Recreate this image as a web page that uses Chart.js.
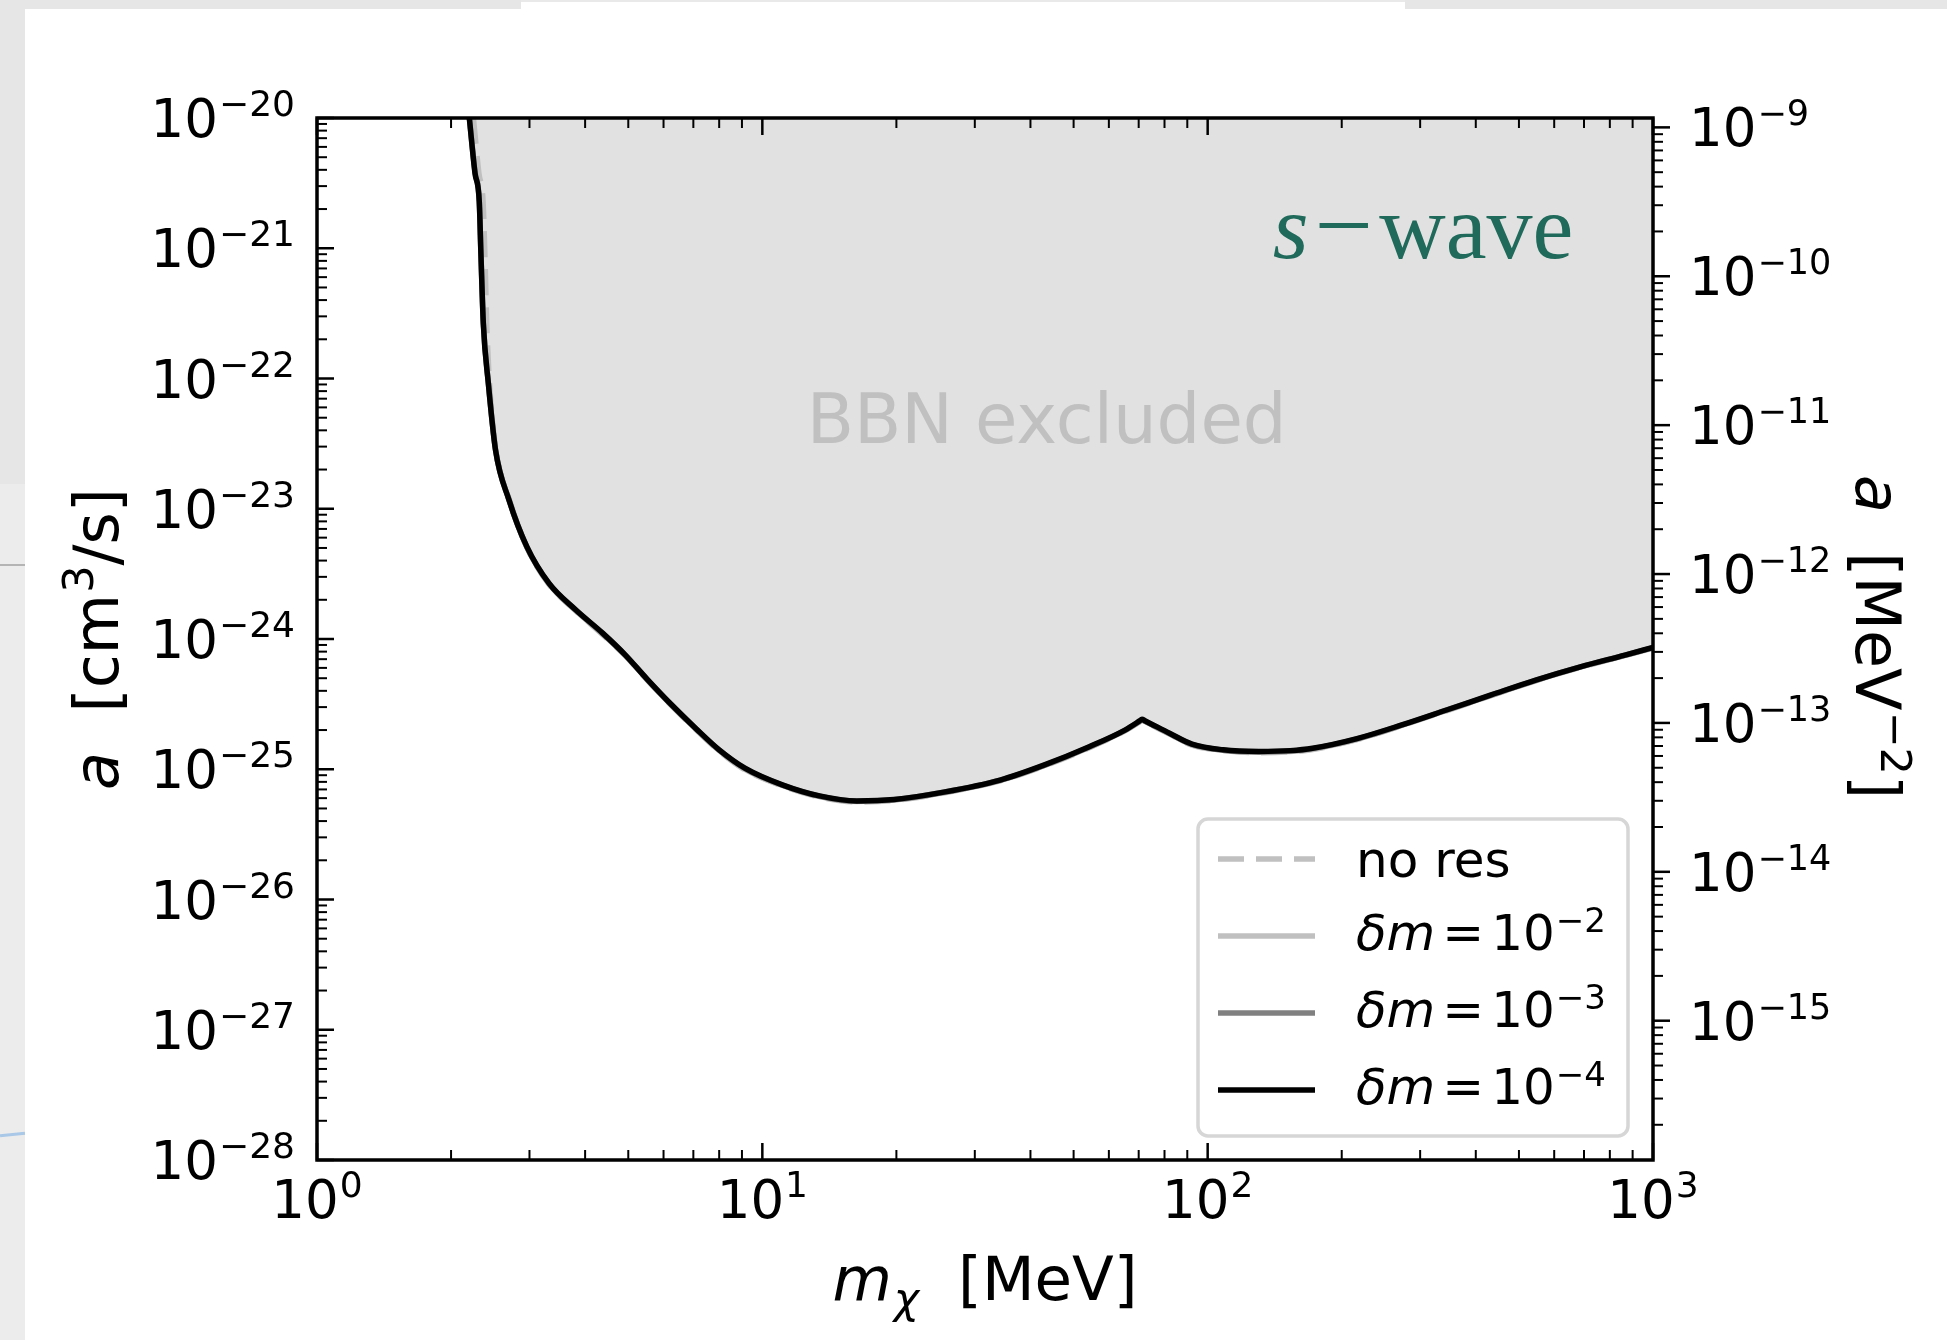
<!DOCTYPE html>
<html>
<head>
<meta charset="utf-8">
<title>BBN bound, s-wave</title>
<script src="https://cdn.jsdelivr.net/npm/chart.js@4.4.1/dist/chart.umd.min.js"></script>
<style>
    html, body { margin: 0; padding: 0; background: #ffffff; }
    body { width: 1947px; height: 1340px; position: relative; overflow: hidden; }
    .strip { position: absolute; }
    #chart { position: absolute; left: 0; top: 0; }
</style>
</head>
<body>
<!-- grey page edges around the figure -->
<div class="strip" style="left:0;top:0;width:25px;height:484px;background:#e6e6e6"></div>
<div class="strip" style="left:0;top:484px;width:25px;height:856px;background:#ececec"></div>
<div class="strip" style="left:0;top:564px;width:25px;height:2px;background:#b4b4b4"></div>
<div class="strip" style="left:0;top:1133px;width:25px;height:3px;background:#a9c7e6;transform:rotate(-6deg)"></div>
<div class="strip" style="left:25px;top:0;width:496px;height:9px;background:#e6e6e6"></div>
<div class="strip" style="left:521px;top:0;width:884px;height:2px;background:#e9e9e9"></div>
<div class="strip" style="left:1405px;top:0;width:542px;height:9px;background:#e6e6e6"></div>

<canvas id="chart" width="1947" height="1340"></canvas>

<script>
// dark matter mass grid [MeV]
const massMeV = [2.198, 2.264, 2.314, 2.335, 2.363, 2.425, 2.517, 2.698, 2.959, 3.32,
    3.814, 4.38, 4.915, 5.517, 6.19, 7.11, 8.0, 9.14, 11.09, 13.44,
    16.3, 19.76, 25.54, 34.2, 43.0, 54.2, 65.2, 70.3, 71.2, 72.3,
    82.1, 92.2, 108.4, 130.4, 153.2, 172, 216.4, 272.9, 343.7, 432.9,
    545.2, 687, 865, 1000];
// the "no res" curve sits a little to the right near the top
const massNoRes = [2.245, 2.31, 2.36, 2.383, 2.405, 2.44, 2.522, 2.698, 2.959, 3.32,
    3.814, 4.38, 4.915, 5.517, 6.19, 7.11, 8.0, 9.14, 11.09, 13.44,
    16.3, 19.76, 25.54, 34.2, 43.0, 54.2, 65.2, 70.3, 71.2, 72.3,
    82.1, 92.2, 108.4, 130.4, 153.2, 172, 216.4, 272.9, 343.7, 432.9,
    545.2, 687, 865, 1000];

// bound on a [cm^3/s] for each curve
const aNoRes = [1.0e-20, 3.76e-21, 2.28e-21, 8.61e-22, 2.65e-22, 9.18e-23, 2.82e-23, 1.2e-23, 5.05e-24, 2.62e-24,
    1.64e-24, 1.08e-24, 7.48e-25, 4.83e-25, 3.19e-25, 2.00e-25, 1.38e-25, 0.99e-25, 7.45e-26, 6.12e-26,
    5.61e-26, 5.76e-26, 6.58e-26, 8.15e-26, 1.06e-25, 1.46e-25, 1.97e-25, 2.31e-25, 2.38e-25, 2.32e-25,
    1.86e-25, 1.53e-25, 1.39e-25, 1.34e-25, 1.36e-25, 1.42e-25, 1.69e-25, 2.16e-25, 2.81e-25, 3.67e-25,
    4.78e-25, 6.05e-25, 7.45e-25, 8.52e-25];
const aDm2 = [1.05e-20, 3.9e-21, 2.35e-21, 8.9e-22, 2.72e-22, 9.4e-23, 2.86e-23, 1.18e-23, 5.08e-24, 2.64e-24,
    1.65e-24, 1.09e-24, 7.52e-25, 4.86e-25, 3.21e-25, 2.02e-25, 1.39e-25, 1.00e-25, 7.50e-26, 6.17e-26,
    5.66e-26, 5.80e-26, 6.62e-26, 8.20e-26, 1.07e-25, 1.47e-25, 1.98e-25, 2.32e-25, 2.39e-25, 2.33e-25,
    1.87e-25, 1.54e-25, 1.40e-25, 1.35e-25, 1.37e-25, 1.43e-25, 1.70e-25, 2.17e-25, 2.83e-25, 3.69e-25,
    4.80e-25, 6.08e-25, 7.48e-25, 8.55e-25];
const aDm3 = [1.01e-20, 3.8e-21, 2.3e-21, 8.7e-22, 2.68e-22, 9.3e-23, 2.84e-23, 1.17e-23, 5.10e-24, 2.66e-24,
    1.66e-24, 1.10e-24, 7.55e-25, 4.88e-25, 3.22e-25, 2.03e-25, 1.40e-25, 1.01e-25, 7.55e-26, 6.21e-26,
    5.69e-26, 5.83e-26, 6.65e-26, 8.23e-26, 1.07e-25, 1.48e-25, 1.99e-25, 2.33e-25, 2.40e-25, 2.34e-25,
    1.88e-25, 1.55e-25, 1.40e-25, 1.36e-25, 1.38e-25, 1.44e-25, 1.71e-25, 2.18e-25, 2.84e-25, 3.70e-25,
    4.82e-25, 6.10e-25, 7.50e-25, 8.58e-25];
const aDm4 = [1.0e-20, 3.76e-21, 2.28e-21, 8.61e-22, 2.65e-22, 9.18e-23, 2.82e-23, 1.17e-23, 5.12e-24, 2.67e-24,
    1.67e-24, 1.11e-24, 7.59e-25, 4.90e-25, 3.24e-25, 2.04e-25, 1.41e-25, 1.02e-25, 7.59e-26, 6.24e-26,
    5.71e-26, 5.85e-26, 6.67e-26, 8.26e-26, 1.08e-25, 1.49e-25, 2.00e-25, 2.35e-25, 2.42e-25, 2.36e-25,
    1.89e-25, 1.56e-25, 1.41e-25, 1.37e-25, 1.39e-25, 1.45e-25, 1.72e-25, 2.19e-25, 2.85e-25, 3.72e-25,
    4.84e-25, 6.12e-25, 7.53e-25, 8.61e-25];

// labelled ticks
const xTicks = [1, 10, 100, 1000];
const yTicksLeft = [1e-28, 1e-27, 1e-26, 1e-25, 1e-24, 1e-23, 1e-22, 1e-21, 1e-20];
const yTicksRight = [1e-15, 1e-14, 1e-13, 1e-12, 1e-11, 1e-10, 1e-9];

// right axis range [MeV^-2]
const rightAxisMin = 1.16e-16;
const rightAxisMax = 1.156e-9;

const SANS = '"DejaVu Sans", sans-serif';
const SERIF = '"Liberation Serif", serif';

function points(mass, values) {
    return mass.map((m, i) => ({ x: m, y: values[i] }));
}

// mantissa is an integer -> a tick matplotlib would draw
function isNice(v) {
    const e = Math.floor(Math.log10(v) + 1e-9);
    const m = v / Math.pow(10, e);
    return Math.abs(m - Math.round(m)) < 1e-4;
}
function isMajor(v) {
    const e = Math.log10(v);
    return Math.abs(e - Math.round(e)) < 1e-6;
}

// text runs drawn one after another on a common baseline
function runsWidth(ctx, runs) {
    let w = 0;
    runs.forEach((r) => {
        ctx.font = r.font;
        w += ctx.measureText(r.t).width + (r.pre || 0) + (r.post || 0);
    });
    return w;
}
function drawRuns(ctx, runs, x, y) {
    let cx = x;
    runs.forEach((r) => {
        ctx.font = r.font;
        cx += r.pre || 0;
        ctx.fillText(r.t, cx, y + (r.dy || 0));
        cx += ctx.measureText(r.t).width + (r.post || 0);
    });
}

// "10" with a superscript exponent
function powerRuns(value, size, supSize, raise) {
    const e = Math.round(Math.log10(value));
    const sup = e < 0 ? '\u2212' + Math.abs(e) : String(e);
    return [
        { t: '10', font: `${size}px ${SANS}` },
        { t: sup, font: `${supSize}px ${SANS}`, dy: -raise, pre: 1 },
    ];
}

const axisPlugin = {
    id: 'mplAxes',
    afterDatasetsDraw(chart) {
        const ctx = chart.ctx;
        const x = chart.scales.x;
        const y = chart.scales.y;

        ctx.save();
        ctx.fillStyle = '#c0c0c0';
        ctx.font = `69px ${SANS}`;
        ctx.textAlign = 'center';
        ctx.textBaseline = 'alphabetic';
        ctx.fillText('BBN excluded', x.getPixelForValue(43.5), y.getPixelForValue(3.2e-23));

        ctx.fillStyle = '#1f6a5a';
        ctx.textAlign = 'left';
        drawRuns(ctx, [
            { t: 's', font: `italic 92px ${SERIF}` },
            { t: '\u2212', font: `104px ${SERIF}`, pre: 6, post: 6, dy: 2 },
            { t: 'wave', font: `92px ${SERIF}` },
        ], x.getPixelForValue(140), y.getPixelForValue(8.4e-22));
        ctx.restore();
    },
    afterDraw(chart) {
        const ctx = chart.ctx;
        const ca = chart.chartArea;
        const sx = chart.scales.x;
        const sy = chart.scales.y;
        const sy2 = chart.scales.y2;

        ctx.save();
        ctx.strokeStyle = '#000';
        ctx.fillStyle = '#000';
        ctx.lineCap = 'butt';

        // tick marks: inward on left, top and bottom, outward on the right axis
        const tick = (x1, y1, x2, y2, w) => {
            ctx.lineWidth = w;
            ctx.beginPath();
            ctx.moveTo(x1, y1);
            ctx.lineTo(x2, y2);
            ctx.stroke();
        };
        sx.ticks.forEach((t) => {
            if (!isNice(t.value)) return;
            const p = sx.getPixelForValue(t.value);
            const len = isMajor(t.value) ? 17 : 10;
            const w = isMajor(t.value) ? 2.5 : 2;
            tick(p, ca.bottom, p, ca.bottom - len, w);
            tick(p, ca.top, p, ca.top + len, w);
        });
        sy.ticks.forEach((t) => {
            if (!isNice(t.value)) return;
            const p = sy.getPixelForValue(t.value);
            const len = isMajor(t.value) ? 17 : 10;
            tick(ca.left, p, ca.left + len, p, isMajor(t.value) ? 2.5 : 2);
        });
        sy2.ticks.forEach((t) => {
            if (!isNice(t.value)) return;
            const p = sy2.getPixelForValue(t.value);
            const len = isMajor(t.value) ? 17 : 10;
            tick(ca.right, p, ca.right + len, p, isMajor(t.value) ? 2.5 : 2);
        });

        // frame
        ctx.lineWidth = 3.5;
        ctx.lineJoin = 'miter';
        ctx.strokeRect(ca.left, ca.top, ca.right - ca.left, ca.bottom - ca.top);

        // tick labels
        ctx.textAlign = 'left';
        ctx.textBaseline = 'alphabetic';
        xTicks.forEach((v) => {
            const runs = powerRuns(v, 53, 36, 21);
            const w = runsWidth(ctx, runs);
            drawRuns(ctx, runs, sx.getPixelForValue(v) - w / 2, ca.bottom + 58);
        });
        yTicksLeft.forEach((v) => {
            const runs = powerRuns(v, 53, 36, 21);
            const w = runsWidth(ctx, runs);
            drawRuns(ctx, runs, ca.left - 22 - w, sy.getPixelForValue(v) + 19);
        });
        yTicksRight.forEach((v) => {
            const runs = powerRuns(v, 53, 35, 21);
            drawRuns(ctx, runs, ca.right + 36, sy2.getPixelForValue(v) + 19);
        });

        // axis titles
        const xTitle = [
            { t: 'm', font: `italic 61px ${SANS}` },
            { t: '\u03c7', font: `italic 43px ${SANS}`, dy: 13, pre: 2 },
            { t: '  [MeV]', font: `61px ${SANS}` },
        ];
        const xw = runsWidth(ctx, xTitle);
        drawRuns(ctx, xTitle, (ca.left + ca.right) / 2 - xw / 2, ca.bottom + 140);

        const yTitle = [
            { t: 'a', font: `italic 62px ${SANS}` },
            { t: '  [cm', font: `62px ${SANS}` },
            { t: '3', font: `43px ${SANS}`, dy: -25, pre: 1 },
            { t: '/s]', font: `62px ${SANS}` },
        ];
        ctx.save();
        ctx.translate(118, (ca.top + ca.bottom) / 2);
        ctx.rotate(-Math.PI / 2);
        drawRuns(ctx, yTitle, -runsWidth(ctx, yTitle) / 2, 0);
        ctx.restore();

        const y2Title = [
            { t: 'a', font: `italic 62px ${SANS}` },
            { t: '  [MeV', font: `62px ${SANS}` },
            { t: '\u22122', font: `43px ${SANS}`, dy: -25, pre: 1 },
            { t: ']', font: `62px ${SANS}` },
        ];
        ctx.save();
        ctx.translate(1856, (ca.top + ca.bottom) / 2 - 2);
        ctx.rotate(Math.PI / 2);
        drawRuns(ctx, y2Title, -runsWidth(ctx, y2Title) / 2, 0);
        ctx.restore();

        // legend, lower right inside the axes
        const bw = 430, bh = 317;
        const bx = ca.right - 25 - bw;
        const by = ca.bottom - 24 - bh;
        ctx.beginPath();
        ctx.roundRect(bx, by, bw, bh, 10);
        ctx.fillStyle = '#ffffff';
        ctx.fill();
        ctx.lineWidth = 3.5;
        ctx.strokeStyle = '#d6d6d6';
        ctx.stroke();

        const legendOrder = [3, 2, 1, 0];
        legendOrder.forEach((di, row) => {
            const ds = chart.data.datasets[di];
            const cy = by + 40 + row * 77;
            ctx.save();
            ctx.strokeStyle = ds.borderColor;
            ctx.lineWidth = ds.borderWidth;
            ctx.setLineDash(ds.borderDash || []);
            ctx.beginPath();
            ctx.moveTo(bx + 20, cy);
            ctx.lineTo(bx + 117, cy);
            ctx.stroke();
            ctx.restore();

            ctx.fillStyle = '#000';
            const m = ds.label.match(/^(.*?) = 10\^(-?\d+)$/);
            if (m) {
                drawRuns(ctx, [
                    { t: '\u03b4m', font: `italic 50px ${SANS}` },
                    { t: '=', font: `50px ${SANS}`, pre: 7, post: 7 },
                    { t: '10', font: `50px ${SANS}` },
                    { t: '\u2212' + Math.abs(m[2]), font: `34px ${SANS}`, dy: -18, pre: 1 },
                ], bx + 158, cy + 14);
            } else {
                ctx.font = `50px ${SANS}`;
                ctx.fillText(ds.label, bx + 158, cy + 18);
            }
        });
        ctx.restore();
    },
};

const lineStyle = { pointRadius: 0, borderWidth: 5.5, cubicInterpolationMode: 'monotone' };

new Chart(document.getElementById('chart').getContext('2d'), {
    type: 'line',
    data: {
        datasets: [
            { label: '\u03b4m = 10^-4', data: points(massMeV, aDm4), borderColor: '#000000',
              fill: 'end', backgroundColor: '#e1e1e1', order: 0, ...lineStyle },
            { label: '\u03b4m = 10^-3', data: points(massMeV, aDm3), borderColor: '#808080',
              fill: false, order: 1, ...lineStyle },
            { label: '\u03b4m = 10^-2', data: points(massMeV, aDm2), borderColor: '#c0c0c0',
              fill: false, order: 2, ...lineStyle },
            { label: 'no res', data: points(massNoRes, aNoRes), borderColor: '#c0c0c0', borderDash: [26, 12],
              fill: false, order: 3, ...lineStyle },
        ],
    },
    options: {
        responsive: false,
        animation: false,
        events: [],
        layout: { padding: { top: 118, left: 0, right: 0, bottom: 0 } },
        plugins: {
            legend: { display: false },
            tooltip: { enabled: false },
            filler: { drawTime: 'beforeDatasetsDraw' },
        },
        scales: {
            x: {
                type: 'logarithmic', position: 'bottom', min: 1, max: 1000,
                grid: { display: false }, border: { display: false }, ticks: { display: false },
                afterFit: (s) => { s.height = 180; },
            },
            y: {
                type: 'logarithmic', position: 'left', min: 1e-28, max: 1e-20,
                grid: { display: false }, border: { display: false }, ticks: { display: false },
                afterFit: (s) => { s.width = 317; },
            },
            y2: {
                type: 'logarithmic', position: 'right', min: rightAxisMin, max: rightAxisMax,
                grid: { display: false }, border: { display: false }, ticks: { display: false },
                afterFit: (s) => { s.width = 294; },
            },
        },
    },
    plugins: [axisPlugin],
});
</script>
</body>
</html>
